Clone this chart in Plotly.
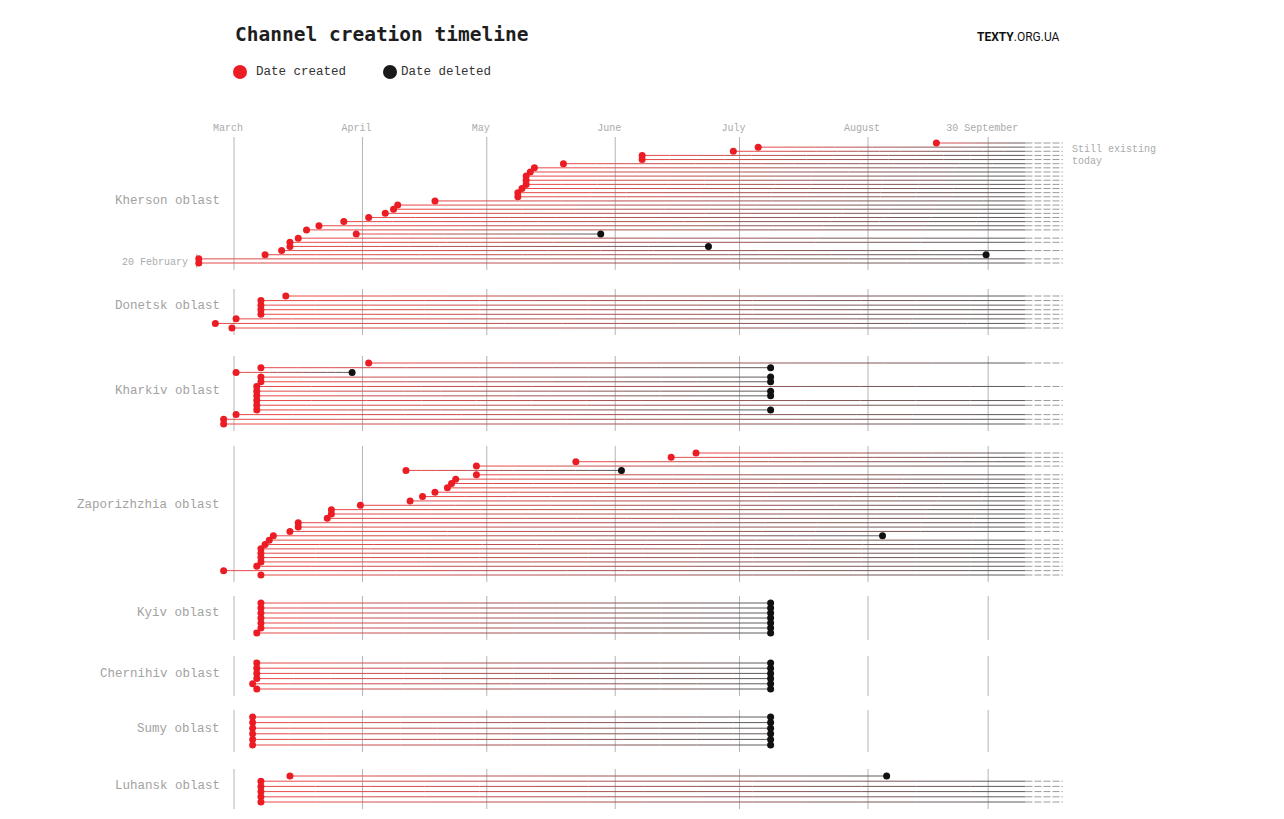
import datetime as dt
import plotly.graph_objects as go

# ---------------- data ----------------
OBLASTS = ["Kherson oblast", "Donetsk oblast", "Kharkiv oblast", "Zaporizhzhia oblast",
           "Kyiv oblast", "Chernihiv oblast", "Sumy oblast", "Luhansk oblast"]

KHERSON_CREATED = ["2022-08-17", "2022-07-05", "2022-06-29", "2022-06-07", "2022-06-07",
                   "2022-05-19", "2022-05-12", "2022-05-11", "2022-05-10", "2022-05-10",
                   "2022-05-10", "2022-05-09", "2022-05-08", "2022-05-08", "2022-04-18",
                   "2022-04-09", "2022-04-08", "2022-04-06", "2022-04-02", "2022-03-27",
                   "2022-03-21", "2022-03-18", "2022-03-30", "2022-03-16", "2022-03-14",
                   "2022-03-14", "2022-03-12", "2022-03-08", "2022-02-20", "2022-02-20"]
KHERSON_DELETED = [None, None, None, None, None, None, None, None, None, None,
                   None, None, None, None, None, None, None, None, None, None,
                   None, None, "2022-05-28", None, None, "2022-06-23", None, "2022-08-29", None, None]

DONETSK_CREATED = ["2022-03-13", "2022-03-07", "2022-03-07", "2022-03-07", "2022-03-07",
                   "2022-03-01", "2022-02-24", "2022-02-28"]
DONETSK_DELETED = [None, None, None, None, None, None, None, None]

KHARKIV_CREATED = ["2022-04-02", "2022-03-07", "2022-03-01", "2022-03-07", "2022-03-07",
                   "2022-03-06", "2022-03-06", "2022-03-06", "2022-03-06", "2022-03-06",
                   "2022-03-06", "2022-03-01", "2022-02-26", "2022-02-26"]
KHARKIV_DELETED = [None, "2022-07-08", "2022-03-29", "2022-07-08", "2022-07-08",
                   None, "2022-07-08", "2022-07-08", None, None,
                   "2022-07-08", None, None, None]

ZAPORIZHZHIA_CREATED = ["2022-06-20", "2022-06-14", "2022-05-22", "2022-04-28", "2022-04-11",
                        "2022-04-28", "2022-04-23", "2022-04-22", "2022-04-21", "2022-04-18",
                        "2022-04-15", "2022-04-12", "2022-03-31", "2022-03-24", "2022-03-24",
                        "2022-03-23", "2022-03-16", "2022-03-16", "2022-03-14", "2022-03-10",
                        "2022-03-09", "2022-03-08", "2022-03-07", "2022-03-07", "2022-03-07",
                        "2022-03-07", "2022-03-06", "2022-02-26", "2022-03-07"]
ZAPORIZHZHIA_DELETED = [None, None, None, None, "2022-06-02", None, None, None, None, None,
                        None, None, None, None, None, None, None, None, None, "2022-08-04",
                        None, None, None, None, None, None, None, None, None]

KYIV_CREATED = ["2022-03-07", "2022-03-07", "2022-03-07", "2022-03-07", "2022-03-07",
                "2022-03-07", "2022-03-06"]
KYIV_DELETED = ["2022-07-08", "2022-07-08", "2022-07-08", "2022-07-08", "2022-07-08",
                "2022-07-08", "2022-07-08"]

CHERNIHIV_CREATED = ["2022-03-06", "2022-03-06", "2022-03-06", "2022-03-06", "2022-03-05",
                     "2022-03-06"]
CHERNIHIV_DELETED = ["2022-07-08", "2022-07-08", "2022-07-08", "2022-07-08", "2022-07-08",
                     "2022-07-08"]

SUMY_CREATED = ["2022-03-05", "2022-03-05", "2022-03-05", "2022-03-05", "2022-03-05",
                "2022-03-05"]
SUMY_DELETED = ["2022-07-08", "2022-07-08", "2022-07-08", "2022-07-08", "2022-07-08",
                "2022-07-08"]

LUHANSK_CREATED = ["2022-03-14", "2022-03-07", "2022-03-07", "2022-03-07", "2022-03-07",
                   "2022-03-07"]
LUHANSK_DELETED = ["2022-08-05", None, None, None, None, None]

MONTH_TICKS = ["2022-03-01", "2022-04-01", "2022-05-01", "2022-06-01", "2022-07-01",
               "2022-08-01", "2022-08-30"]
MONTH_LABELS = ["March", "April", "May", "June", "July", "August", "30 September"]
START_DATE = "2022-02-20"
START_LABEL = "20 February"
SOLID_END = "2022-09-08"
DASH_END = "2022-09-17"

# ---------------- layout / style ----------------
W, H = 1284, 819
TOP = 137
SECTION_ROWS_PX = [(143, 263), (296, 328), (363, 424), (453, 575),
                   (603, 633), (663, 689), (717, 745), (776, 802)]
LABEL_SHIFT = [-2, -6, -3, -9, -5, -2, -2, -3]
PPD = (868 - 234) / 153.0
MAR1 = dt.datetime(2022, 3, 1)
X0 = MAR1 - dt.timedelta(days=234 / PPD)
X1 = X0 + dt.timedelta(days=W / PPD)
HALF = dt.timedelta(hours=12)
RED = "#ec1c24"
MONO = "Liberation Mono, DejaVu Sans Mono, monospace"
START_RGB = (236, 72, 72)
END_RGB = (92, 92, 92)
NSEG = 14

SECTIONS = list(zip(OBLASTS,
                    [KHERSON_CREATED, DONETSK_CREATED, KHARKIV_CREATED, ZAPORIZHZHIA_CREATED,
                     KYIV_CREATED, CHERNIHIV_CREATED, SUMY_CREATED, LUHANSK_CREATED],
                    [KHERSON_DELETED, DONETSK_DELETED, KHARKIV_DELETED, ZAPORIZHZHIA_DELETED,
                     KYIV_DELETED, CHERNIHIV_DELETED, SUMY_DELETED, LUHANSK_DELETED]))


def d(s):
    return dt.datetime.fromisoformat(s)


def py2paper(py):
    return (H - py) / (H - TOP)


seg_x = [[] for _ in range(NSEG)]
seg_y = [[] for _ in range(NSEG)]
dash_x, dash_y = [], []
red_x, red_y, blk_x, blk_y = [], [], [], []
grid_x, grid_y = [], []
annotations = []

for si, ((name, created, deleted), (top, bot)) in enumerate(zip(SECTIONS, SECTION_ROWS_PX)):
    n = len(created)
    ys = [top + (bot - top) * i / (n - 1) for i in range(n)]
    for g in MONTH_TICKS:
        grid_x += [d(g), d(g), None]
        grid_y += [top - 7, bot + 7, None]
    if si == 0:
        grid_x += [d(START_DATE), d(START_DATE), None]
        grid_y += [bot - 9, bot + 5, None]
    for c, dl, y in zip(created, deleted, ys):
        s = d(c) + HALF
        e = d(dl) + HALF if dl else d(SOLID_END)
        for k in range(NSEG):
            a = s + (e - s) * k / NSEG
            b = s + (e - s) * (k + 1) / NSEG
            seg_x[k] += [a, b, None]
            seg_y[k] += [y, y, None]
        red_x.append(s)
        red_y.append(y)
        if dl:
            blk_x.append(e)
            blk_y.append(y)
        else:
            dash_x += [d(SOLID_END), d(DASH_END), None]
            dash_y += [y, y, None]
    annotations.append(dict(xref="paper", yref="y", x=222 / W, y=(top + bot) / 2 + LABEL_SHIFT[si],
                            xanchor="right", yanchor="middle", showarrow=False, text=name,
                            font=dict(family=MONO, size=12.5, color="#a2a2a2")))

fig = go.Figure()
fig.add_trace(go.Scatter(x=grid_x, y=grid_y, mode="lines", hoverinfo="skip",
                         line=dict(color="#b4b4b4", width=1), showlegend=False))
for k in range(NSEG):
    t = (k + 0.5) / NSEG
    col = "rgb(%d,%d,%d)" % tuple(round(START_RGB[i] + (END_RGB[i] - START_RGB[i]) * t) for i in range(3))
    fig.add_trace(go.Scatter(x=seg_x[k], y=seg_y[k], mode="lines", hoverinfo="skip",
                             line=dict(color=col, width=1), showlegend=False))
fig.add_trace(go.Scatter(x=dash_x, y=dash_y, mode="lines", hoverinfo="skip",
                         line=dict(color="#9a9a9a", width=1, dash="7px,2px"), showlegend=False))
fig.add_trace(go.Scatter(x=red_x, y=red_y, mode="markers", name="Date created",
                         marker=dict(color=RED, size=7, line=dict(width=0)), showlegend=False))
fig.add_trace(go.Scatter(x=blk_x, y=blk_y, mode="markers", name="Date deleted",
                         marker=dict(color="#111111", size=7, line=dict(width=0)), showlegend=False))

# title, legend, logo, notes
annotations += [
    dict(xref="paper", yref="paper", x=233 / W, y=py2paper(35), xanchor="left", yanchor="middle",
         showarrow=False, text="<b>Channel creation timeline</b>",
         font=dict(family="DejaVu Sans Mono, monospace", size=19.5, color="#1e1e1e")),
    dict(xref="paper", yref="paper", x=254 / W, y=py2paper(72), xanchor="left", yanchor="middle",
         showarrow=False, text="Date created", font=dict(family=MONO, size=12.5, color="#333")),
    dict(xref="paper", yref="paper", x=399 / W, y=py2paper(72), xanchor="left", yanchor="middle",
         showarrow=False, text="Date deleted", font=dict(family=MONO, size=12.5, color="#333")),
    dict(xref="paper", yref="paper", x=975 / W, y=py2paper(37), xanchor="left", yanchor="middle",
         showarrow=False, text="<b>TEXTY</b>.ORG.UA",
         font=dict(family="Roboto, sans-serif", size=12, color="#111")),
    dict(xref="paper", yref="y", x=1070 / W, y=149, xanchor="left", yanchor="middle",
         showarrow=False, text="Still existing", font=dict(family=MONO, size=10, color="#aaa")),
    dict(xref="paper", yref="y", x=1070 / W, y=161, xanchor="left", yanchor="middle",
         showarrow=False, text="today", font=dict(family=MONO, size=10, color="#aaa")),
    dict(xref="paper", yref="y", x=190 / W, y=262, xanchor="right", yanchor="middle",
         showarrow=False, text=START_LABEL, font=dict(family=MONO, size=10, color="#aaa")),
]

shapes = []
for cx, col in [(240, RED), (390, "#1a1a1a")]:
    shapes.append(dict(type="circle", xref="paper", yref="paper",
                       x0=(cx - 7) / W, x1=(cx + 7) / W, y0=py2paper(79), y1=py2paper(65),
                       fillcolor=col, line=dict(width=0)))

fig.update_layout(
    width=W, height=H, margin=dict(l=0, r=0, t=TOP, b=0),
    paper_bgcolor="white", plot_bgcolor="white",
    annotations=annotations, shapes=shapes,
    xaxis=dict(type="date", range=[X0, X1], side="top", tickmode="array",
               tickvals=MONTH_TICKS, ticktext=MONTH_LABELS, showgrid=False, zeroline=False,
               showline=False, ticks="", ticklabelshift=-6, ticklabelstandoff=3,
               tickfont=dict(family=MONO, size=10, color="#aaa"), fixedrange=True),
    yaxis=dict(range=[H, TOP], visible=False, fixedrange=True),
    hovermode=False,
)
fig.write_html("out.html")
